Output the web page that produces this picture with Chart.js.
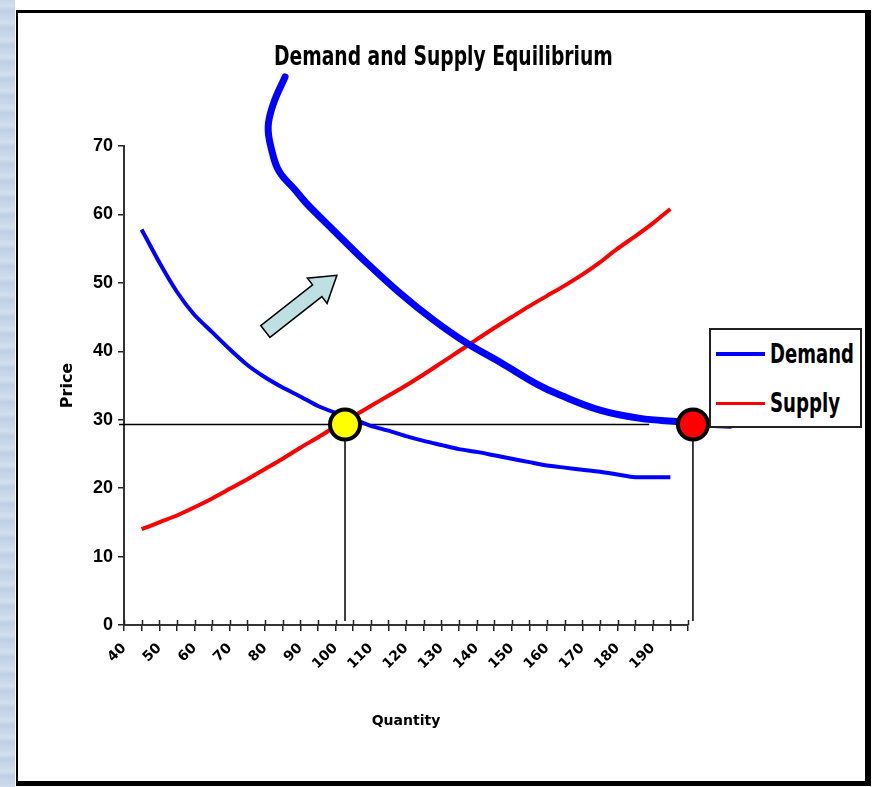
<!DOCTYPE html>
<html>
<head>
<meta charset="utf-8">
<script src="https://cdn.jsdelivr.net/npm/chart.js@4.4.1/dist/chart.umd.min.js"></script>
<style>
  body { margin: 0; background: #fff; }
  #wrap { position: relative; width: 877px; height: 787px; overflow: hidden; background: #fff; }
  #strip { position: absolute; left: 0; top: 0; width: 15px; height: 787px;
    background: repeating-linear-gradient(180deg, #c6d5e8 0px, #d3dfee 6px, #bfcfe4 11px, #c9d7ea 17px); }
  #frame { position: absolute; left: 16px; top: 10px; width: 847px; height: 768px;
    border-left: 2px solid #000; border-top: 3px solid #000; border-right: 6px solid #000; border-bottom: 5px solid #000; background: #fff; }
  #myChart { position: absolute; left: 0; top: 0; }
  .narrow { display: inline-block; white-space: nowrap; transform-origin: 0 0;
    font-family: "Liberation Sans Narrow", "DejaVu Sans Condensed", sans-serif; font-weight: bold; font-stretch: condensed; color: #000; }
  #title { position: absolute; left: 274px; top: 40px; font-size: 27px; }
  #legend { position: absolute; left: 709px; top: 328px; width: 149px; height: 96px; border: 2px solid #222; background: #fff; }
  .item { position: absolute; left: 5px; height: 30px; width: 140px; }
  .item span.ln { position: absolute; left: 0; width: 49px; }
  .item span.tx { position: absolute; left: 54px; top: 0; line-height: 30px; font-size: 26px; }
</style>
</head>
<body>
<div id="wrap">
  <div id="strip"></div>
  <div id="frame"></div>
  <canvas id="myChart" width="877" height="787"></canvas>
  <span id="title" class="narrow">Demand and Supply Equilibrium</span>
  <div id="legend"></div>
</div>
<script>
// datos
const quantities = [45, 50, 55, 60, 65, 70, 75, 80, 85, 90, 95, 100, 105, 110, 115, 120,
  125, 130, 135, 140, 145, 150, 155, 160, 165, 170, 175, 180, 185, 190, 195];
const demand = [57.8, 53.0, 48.7, 45.3, 42.8, 40.3, 38.0, 36.2, 34.7, 33.4, 32.0, 31.0, 30.1, 29.1, 28.4, 27.6,
  26.9, 26.3, 25.7, 25.3, 24.8, 24.3, 23.8, 23.3, 23.0, 22.7, 22.4, 22.0, 21.6, 21.6, 21.6];
const supply = [14.0, 15.0, 16.0, 17.2, 18.5, 19.9, 21.3, 22.8, 24.3, 25.9, 27.4, 29.0, 30.5, 32.0, 33.5, 35.0,
  36.6, 38.3, 40.0, 41.7, 43.4, 45.0, 46.6, 48.1, 49.6, 51.2, 53.0, 55.0, 56.8, 58.7, 60.8];

// the new (shifted) demand curve, drawn by hand on the original
const newDemandQ = [85.7, 82.4, 80.9, 81.9, 84.0, 88.5, 91.8, 99.4, 108.9, 118.3, 127.7, 137.2, 146.7, 157.1, 163.7, 175.0, 186.4, 197.7, 203.4, 211.9];
const newDemandP = [80.1, 76.2, 72.8, 69.4, 66.3, 63.6, 61.6, 57.7, 52.9, 48.5, 44.6, 41.2, 38.4, 35.2, 33.6, 31.4, 30.2, 29.7, 29.4, 29.2];

const eqPrice = 29.3;
const eqQuantity = 102.7;
const newEqQuantity = 201.4;
const priceLineQ = [38.6, 189];
const arrowFrom = [80.1, 42.9];
const arrowTo = [100.4, 51.1];

const xLabels = ["40", "50", "60", "70", "80", "90", "100", "110", "120", "130", "140", "150", "160", "170", "180", "190"];
const yLabels = ["0", "10", "20", "30", "40", "50", "60", "70"];

function pts(xs, ys) {
  return xs.map((x, i) => ({ x: x, y: ys[i] }));
}

const extras = {
  id: "extras",
  afterDatasetsDraw(chart) {
    const ctx = chart.ctx;
    const xs = chart.scales.x, ys = chart.scales.y;
    // flecha
    const x1 = xs.getPixelForValue(arrowFrom[0]), y1 = ys.getPixelForValue(arrowFrom[1]);
    const x2 = xs.getPixelForValue(arrowTo[0]), y2 = ys.getPixelForValue(arrowTo[1]);
    const len = Math.hypot(x2 - x1, y2 - y1);
    const ux = (x2 - x1) / len, uy = (y2 - y1) / len;
    const nx = -uy, ny = ux;
    const w = 7.5, hw = 16, hl = 25;
    const bx = x2 - ux * hl, by = y2 - uy * hl;
    ctx.save();
    ctx.beginPath();
    ctx.moveTo(x1 + nx * w, y1 + ny * w);
    ctx.lineTo(bx + nx * w, by + ny * w);
    ctx.lineTo(bx + nx * hw, by + ny * hw);
    ctx.lineTo(x2, y2);
    ctx.lineTo(bx - nx * hw, by - ny * hw);
    ctx.lineTo(bx - nx * w, by - ny * w);
    ctx.lineTo(x1 - nx * w, y1 - ny * w);
    ctx.closePath();
    ctx.fillStyle = "#bfe0e2";
    ctx.fill();
    ctx.lineWidth = 1.5;
    ctx.strokeStyle = "#000";
    ctx.stroke();
    ctx.restore();
  },
  afterDraw(chart) {
    // ticks crossing the x axis
    const ctx = chart.ctx;
    const xs = chart.scales.x;
    ctx.save();
    ctx.strokeStyle = "#222";
    ctx.lineWidth = 1.5;
    xs.ticks.forEach((t) => {
      const px = Math.round(xs.getPixelForValue(t.value)) + 0.5;
      ctx.beginPath();
      ctx.moveTo(px, xs.top);
      ctx.lineTo(px, xs.top - 5);
      ctx.stroke();
    });
    ctx.restore();
  }
};

const data = {
  datasets: [
    {
      label: "eq1", data: [{ x: eqQuantity, y: eqPrice }], showLine: false,
      pointRadius: 15, pointHoverRadius: 15, pointBackgroundColor: "#ffff00", pointBorderColor: "#000", pointBorderWidth: 4,
      order: 0, clip: false
    },
    {
      label: "eq2", data: [{ x: newEqQuantity, y: eqPrice }], showLine: false,
      pointRadius: 15, pointHoverRadius: 15, pointBackgroundColor: "#ff0000", pointBorderColor: "#000", pointBorderWidth: 4,
      order: 0, clip: false
    },
    {
      label: "Demand2", data: pts(newDemandQ, newDemandP), borderColor: "#0000ff", borderWidth: 7,
      pointRadius: 0, tension: 0.4, borderCapStyle: "round", order: 1, clip: false
    },
    {
      label: "Demand", legend: true, data: pts(quantities, demand), borderColor: "#0000ff", backgroundColor: "#0000ff",
      borderWidth: 4, pointRadius: 0, tension: 0.2, order: 2
    },
    {
      label: "Supply", legend: true, data: pts(quantities, supply), borderColor: "#ff0000", backgroundColor: "#ff0000",
      borderWidth: 4, pointRadius: 0, tension: 0.2, order: 3
    },
    {
      label: "priceLine", data: pts(priceLineQ, [eqPrice, eqPrice]), borderColor: "#000", borderWidth: 1.5,
      pointRadius: 0, order: 4, clip: false
    },
    {
      label: "qLine1", data: pts([eqQuantity, eqQuantity], [eqPrice, 0.6]), borderColor: "#000", borderWidth: 1.5,
      pointRadius: 0, order: 4, clip: false
    },
    {
      label: "qLine2", data: pts([newEqQuantity, newEqQuantity], [eqPrice, 0.6]), borderColor: "#000", borderWidth: 1.5,
      pointRadius: 0, order: 4, clip: false
    }
  ]
};

const config = {
  type: "line",
  data,
  options: {
    responsive: false,
    animation: false,
    events: [],
    layout: { padding: { left: 0, right: 189, top: 146, bottom: 0 } },
    plugins: { legend: { display: false }, tooltip: { enabled: false }, title: { display: false } },
    scales: {
      x: {
        type: "linear", min: 40, max: 200,
        afterFit: (s) => { s.height = 162; },
        grid: { drawOnChartArea: false, color: "#222", tickLength: 6, lineWidth: 1.5 },
        border: { color: "#333", width: 2 },
        ticks: {
          stepSize: 5, autoSkip: false, minRotation: 45, maxRotation: 45, padding: 9, color: "#000",
          font: { family: "DejaVu Sans", weight: "bold", size: 14 },
          callback: (v) => xLabels.includes(String(v)) ? String(v) : ""
        },
        title: {
          display: true, text: "Quantity", color: "#000",
          font: { family: "DejaVu Sans", weight: "bold", size: 14 },
          padding: { top: 0, bottom: 57 }
        }
      },
      y: {
        min: 0, max: 70,
        afterFit: (s) => { s.width = 124; },
        grid: { drawOnChartArea: false, color: "#222", tickLength: 6, lineWidth: 1.5 },
        border: { color: "#333", width: 2 },
        ticks: {
          stepSize: 10, padding: 5, color: "#000",
          font: { family: "Liberation Sans", weight: "bold", size: 18 },
          callback: (v) => yLabels[v / 10]
        },
        title: {
          display: true, text: "Price", color: "#000",
          font: { family: "DejaVu Sans", weight: "bold", size: 16 },
          padding: { top: 58, bottom: 0 }
        }
      }
    }
  },
  plugins: [extras]
};

const myChart = new Chart(document.getElementById("myChart"), config);

// leyenda
const legend = document.getElementById("legend");
const legendWidths = [84, 70];
myChart.data.datasets.filter((d) => d.legend).forEach((d, i) => {
  const item = document.createElement("div");
  item.className = "item";
  item.style.top = (9 + i * 49) + "px";
  const ln = document.createElement("span");
  ln.className = "ln";
  ln.style.background = d.borderColor;
  ln.style.height = (i === 0 ? 4 : 3) + "px";
  ln.style.top = (i === 0 ? 13 : 14) + "px";
  const tx = document.createElement("span");
  tx.className = "tx narrow";
  tx.textContent = d.label;
  item.appendChild(ln);
  item.appendChild(tx);
  legend.appendChild(item);
  tx.style.transform = "scaleX(" + (legendWidths[i] / tx.offsetWidth) + ")";
});

// squeeze the title to the width of the original
const title = document.getElementById("title");
title.style.transform = "scaleX(" + (339 / title.offsetWidth) + ")";
</script>
</body>
</html>
